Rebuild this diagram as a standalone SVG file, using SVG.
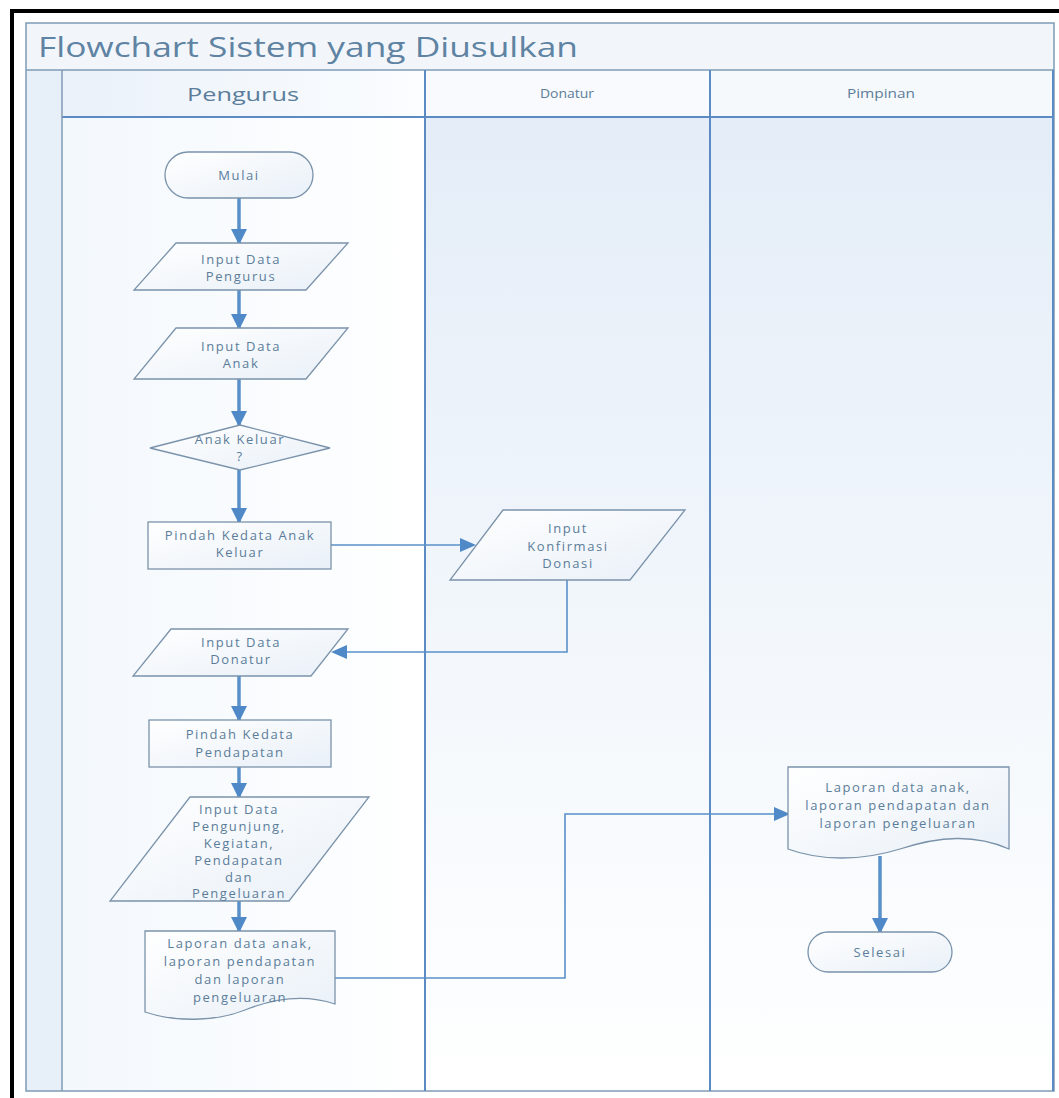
<svg xmlns="http://www.w3.org/2000/svg" width="1059" height="1098" viewBox="0 0 1059 1098">
<style>
.shape{fill:url(#shapeGrad);stroke:#7b93aa;stroke-width:1.3}
.t{font-family:"Open Sans","Noto Sans",sans-serif;font-size:13px;fill:#5b7d9a;text-anchor:middle;letter-spacing:1.6px}
.hdr{font-family:"Open Sans","Noto Sans",sans-serif;fill:#5b7d9a;text-anchor:middle}
.lane{stroke:#5b8bc2;stroke-width:2;fill:none}
.pool{stroke:#7f9bb5;stroke-width:1.5;fill:none}
.thick{stroke:#5a90c9;stroke-width:3.5;fill:none;marker-end:url(#arrowBig)}
.thin{stroke:#5a90c9;stroke-width:1.6;fill:none;marker-end:url(#arrowSmall)}
</style>
<defs>
<linearGradient id="shapeGrad" x1="0" y1="0" x2="1" y2="1">
<stop offset="0" stop-color="#ffffff"/>
<stop offset="1" stop-color="#e9f0f8"/>
</linearGradient>
<linearGradient id="laneGrad" x1="0" y1="0" x2="0" y2="1">
<stop offset="0" stop-color="#e4edf8"/>
<stop offset="0.6" stop-color="#f4f8fc"/>
<stop offset="1" stop-color="#ffffff"/>
</linearGradient>
<linearGradient id="penGrad" x1="0" y1="0" x2="1" y2="0">
<stop offset="0" stop-color="#f3f8fd"/>
<stop offset="1" stop-color="#ffffff"/>
</linearGradient>
<linearGradient id="hdrGrad" x1="0" y1="0" x2="1" y2="0">
<stop offset="0" stop-color="#eaf1f9"/>
<stop offset="1" stop-color="#fbfdff"/>
</linearGradient>
<marker id="arrowBig" markerUnits="userSpaceOnUse" markerWidth="18" markerHeight="16" refX="14" refY="8" orient="auto">
<path d="M0,0 L16,8 L0,16 z" fill="#4f89c7"/>
</marker>
<marker id="arrowSmall" markerUnits="userSpaceOnUse" markerWidth="16" markerHeight="14" refX="14" refY="7" orient="auto">
<path d="M0,0 L16,7 L0,14 z" fill="#4f89c7"/>
</marker>
</defs>

<rect x="0" y="0" width="1059" height="1098" fill="#ffffff"/>

<g id="pool">
<rect x="26" y="23" width="1028" height="47" fill="#f2f6fb"/>
<rect x="26" y="70" width="36" height="1021" fill="#e7eff9"/>
<rect x="62" y="70" width="363" height="47" fill="url(#hdrGrad)"/>
<rect x="425" y="70" width="285" height="47" fill="#f8fafd"/>
<rect x="710" y="70" width="344" height="47" fill="#f6f9fc"/>
<rect x="62" y="117" width="363" height="974" fill="url(#penGrad)"/>
<rect x="425" y="117" width="285" height="974" fill="url(#laneGrad)"/>
<rect x="710" y="117" width="344" height="974" fill="url(#laneGrad)"/>
<rect x="26" y="23" width="1028" height="1068" class="pool"/>
<line x1="26" y1="70" x2="1054" y2="70" class="pool"/>
<line x1="62" y1="117" x2="1054" y2="117" class="lane"/>
<line x1="62" y1="70" x2="62" y2="1091" class="pool"/>
<line x1="425" y1="70" x2="425" y2="1091" class="lane"/>
<line x1="710" y1="70" x2="710" y2="1091" class="lane"/>
<line x1="1053" y1="70" x2="1053" y2="1091" class="lane"/>
<text x="38" y="57" class="hdr" style="text-anchor:start;font-size:28px;fill:#5f83a2" textLength="540" lengthAdjust="spacingAndGlyphs">Flowchart Sistem yang Diusulkan</text>
<text x="243" y="101" class="hdr" style="font-size:19px" textLength="112" lengthAdjust="spacingAndGlyphs">Pengurus</text>
<text x="567" y="98" class="hdr" style="font-size:12px" textLength="54" lengthAdjust="spacingAndGlyphs">Donatur</text>
<text x="881" y="98" class="hdr" style="font-size:12px" textLength="68" lengthAdjust="spacingAndGlyphs">Pimpinan</text>
</g>

<path d="M12,1098 V11 H1059" fill="none" stroke="#000000" stroke-width="4"/>

<g id="connectors">
<line x1="239" y1="198" x2="239" y2="243" class="thick"/>
<line x1="239" y1="290" x2="239" y2="328" class="thick"/>
<line x1="239" y1="379" x2="239" y2="425" class="thick"/>
<line x1="239" y1="470" x2="239" y2="522" class="thick"/>
<line x1="331" y1="545" x2="474" y2="545" class="thin"/>
<polyline points="567,580 567,652 333,652" class="thin"/>
<line x1="239" y1="676" x2="239" y2="720" class="thick"/>
<line x1="239" y1="767" x2="239" y2="797" class="thick"/>
<line x1="239" y1="901" x2="239" y2="931" class="thick"/>
<polyline points="335,978 565,978 565,814 788,814" class="thin"/>
<line x1="880" y1="856" x2="880" y2="932" class="thick"/>
</g>

<g id="mulai">
<rect x="165" y="152" width="148" height="46" rx="23" ry="23" class="shape"/>
<text x="239" y="180" class="t">Mulai</text>
</g>

<g id="input-data-pengurus">
<polygon points="176,243 348,243 306,290 134,290" class="shape"/>
<text x="241" y="264" class="t">Input Data</text>
<text x="241" y="281" class="t">Pengurus</text>
</g>

<g id="input-data-anak">
<polygon points="176,328 348,328 306,379 134,379" class="shape"/>
<text x="241" y="351" class="t">Input Data</text>
<text x="241" y="368" class="t">Anak</text>
</g>

<g id="anak-keluar">
<polygon points="240,425 330,448 240,470 150,448" class="shape"/>
<text x="240" y="444" class="t">Anak Keluar</text>
<text x="240" y="461" class="t">?</text>
</g>

<g id="pindah-anak-keluar">
<rect x="148" y="522" width="183" height="47" class="shape"/>
<text x="240" y="540" class="t">Pindah Kedata Anak</text>
<text x="240" y="557" class="t">Keluar</text>
</g>

<g id="input-konfirmasi-donasi">
<polygon points="503,510 685,510 630,580 450,580" class="shape"/>
<text x="568" y="533" class="t">Input</text>
<text x="568" y="551" class="t">Konfirmasi</text>
<text x="568" y="568" class="t">Donasi</text>
</g>

<g id="input-data-donatur">
<polygon points="171,629 348,629 311,676 133,676" class="shape"/>
<text x="241" y="647" class="t">Input Data</text>
<text x="241" y="664" class="t">Donatur</text>
</g>

<g id="pindah-pendapatan">
<rect x="149" y="720" width="182" height="47" class="shape"/>
<text x="240" y="739" class="t">Pindah Kedata</text>
<text x="240" y="757" class="t">Pendapatan</text>
</g>

<g id="input-data-pengunjung">
<polygon points="190,797 369,797 289,901 110,901" class="shape"/>
<text x="239" y="814" class="t">Input Data</text>
<text x="239" y="831" class="t">Pengunjung,</text>
<text x="239" y="848" class="t">Kegiatan,</text>
<text x="239" y="865" class="t">Pendapatan</text>
<text x="239" y="882" class="t">dan</text>
<text x="239" y="898" class="t">Pengeluaran</text>
</g>

<g id="laporan-pengurus">
<path d="M145,931 H335 V1004 C305,994 275,998 245,1010 C215,1022 175,1022 145,1012 Z" class="shape"/>
<text x="240" y="948" class="t">Laporan data anak,</text>
<text x="240" y="966" class="t">laporan pendapatan</text>
<text x="240" y="984" class="t">dan laporan</text>
<text x="240" y="1002" class="t">pengeluaran</text>
</g>

<g id="laporan-pimpinan">
<path d="M788,767 H1009 V849 C975,834 940,836 900,849 C862,861 820,861 788,849 Z" class="shape"/>
<text x="898" y="792" class="t">Laporan data anak,</text>
<text x="898" y="810" class="t">laporan pendapatan dan</text>
<text x="898" y="828" class="t">laporan pengeluaran</text>
</g>

<g id="selesai">
<rect x="808" y="932" width="144" height="40" rx="20" ry="20" class="shape"/>
<text x="880" y="957" class="t">Selesai</text>
</g>
</svg>
